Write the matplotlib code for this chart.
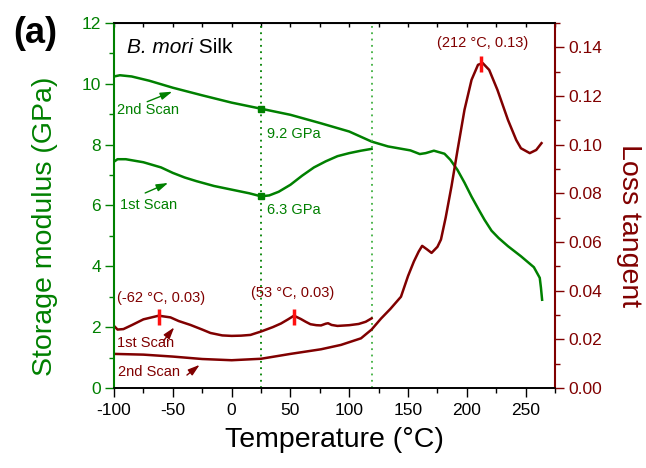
#!/usr/bin/env python3
"""
DMA curves: storage modulus and loss tangent of B. mori silk, 1st and 2nd scan
"""
import numpy as np
import matplotlib
matplotlib.use('Agg')
import matplotlib.pyplot as plt

plt.rcParams['font.family'] = ['Liberation Sans', 'DejaVu Sans']
plt.rcParams['axes.unicode_minus'] = False

GREEN = '#008000'
DARKRED = '#800000'

# storage modulus (GPa), 2nd scan
e2_temp = [-100, -95, -85, -70, -50, -25, 0, 25, 50, 76, 100, 119, 133, 152,
           160, 165, 172, 181, 186, 192, 198, 204, 210, 215, 221, 227, 235, 246,
           257, 262, 263, 264]
e2_mod = [10.24, 10.28, 10.24, 10.1, 9.87, 9.62, 9.38, 9.18, 8.98, 8.7, 8.43, 8.1,
          7.94, 7.81, 7.69, 7.72, 7.8, 7.7, 7.5, 7.17, 6.75, 6.29, 5.87, 5.53,
          5.17, 4.93, 4.66, 4.33, 3.97, 3.62, 3.3, 2.9]

# storage modulus (GPa), 1st scan
e1_temp = [-100, -97, -90, -75, -60, -50, -40, -30, -15, 0, 15, 25, 32, 40, 50,
           60, 70, 80, 90, 100, 110, 119]
e1_mod = [7.44, 7.52, 7.52, 7.42, 7.25, 7.07, 6.92, 6.8, 6.64, 6.52, 6.4, 6.3,
          6.33, 6.45, 6.68, 6.98, 7.25, 7.45, 7.62, 7.72, 7.8, 7.86]

# loss tangent, 1st scan
t1_temp = [-100, -97, -92, -85, -75, -62, -52, -45, -35, -25, -18, -8, 0, 8, 16,
           25, 35, 42, 48, 53, 56, 59, 63, 67, 72, 76, 80, 82, 85, 90, 100, 108,
           114, 119]
t1_tan = [0.0255, 0.0240, 0.0242, 0.0258, 0.0282, 0.0297, 0.0290, 0.0275, 0.0259,
          0.0240, 0.0226, 0.0216, 0.0214, 0.0215, 0.0218, 0.0232, 0.0250, 0.0265,
          0.0282, 0.0297, 0.0290, 0.0283, 0.0272, 0.0262, 0.0258, 0.0257, 0.0264,
          0.0266, 0.0259, 0.0255, 0.0258, 0.0263, 0.0272, 0.0286]

# loss tangent, 2nd scan
t2_temp = [-100, -75, -50, -25, 0, 25, 50, 76, 93, 110, 119, 127, 135, 144, 150,
           155, 159, 162, 166, 170, 175, 178, 182, 187, 192, 198, 204, 209.5, 213.5,
           219, 226, 235, 242, 246, 253.5, 259, 263.5]
t2_tan = [0.0140, 0.0137, 0.0129, 0.0119, 0.0114, 0.0120, 0.0140, 0.0159, 0.0177,
          0.0204, 0.0240, 0.0285, 0.0325, 0.0375, 0.0460, 0.0520, 0.0560, 0.0584,
          0.0570, 0.0555, 0.0580, 0.0610, 0.0700, 0.0830, 0.0975, 0.1143, 0.1266,
          0.1328, 0.1335, 0.1307, 0.1225, 0.1101, 0.1019, 0.0985, 0.0965, 0.0978,
          0.1006]

# tan delta peaks (temperature, value)
peak_temp = [-62, 53, 212]
peak_tan = [0.0292, 0.0292, 0.1330]
peak_text = ['(-62 °C, 0.03)', '(53 °C, 0.03)', '(212 °C, 0.13)']

# modulus read at 25 °C
mark_temp = [25, 25]
mark_mod = [9.18, 6.3]
mark_text = ['9.2 GPa', '6.3 GPa']

fig = plt.figure(figsize=(6.46, 4.68), dpi=100)
ax1 = fig.add_axes([0.1765, 0.171, 0.6827, 0.780])
ax2 = ax1.twinx()

# 储能模量
ax1.plot(e2_temp, e2_mod, color=GREEN, lw=1.8)
ax1.plot(e1_temp, e1_mod, color=GREEN, lw=1.8)
ax1.plot(mark_temp, mark_mod, 's', color=GREEN, ms=4)
ax1.axvline(25, color=GREEN, ls=(0, (1, 2.5)), lw=1.3)
ax1.axvline(119, color='#40b040', ls=(0, (1, 2.5)), lw=1.3)

# 损耗因子
ax2.plot(t1_temp, t1_tan, color=DARKRED, lw=1.8)
ax2.plot(t2_temp, t2_tan, color=DARKRED, lw=1.8)
ax2.plot(peak_temp, peak_tan, '|', color='#ff1010', ms=12, mew=2.5)

ax1.set_xlim(-100, 275)
ax1.set_ylim(0, 12)
ax2.set_ylim(0, 0.15)

ax1.set_xticks(np.arange(-100, 251, 50))
ax1.set_xticks(np.arange(-100, 276, 25), minor=True)
ax1.set_yticks(np.arange(0, 13, 2))
ax1.set_yticks(np.arange(0, 13, 1), minor=True)
ax2.set_yticks(np.arange(0, 0.141, 0.02))
ax2.set_yticks(np.arange(0, 0.151, 0.01), minor=True)
ax2.yaxis.set_major_formatter(plt.FuncFormatter(lambda v, _: f'{v:.2f}'))

ax1.tick_params(axis='x', which='major', length=6.5, width=1, labelsize=12.5, pad=4)
ax1.tick_params(axis='x', which='minor', length=3.5, width=1)
ax1.tick_params(axis='y', which='major', length=6.5, width=1, colors=GREEN,
                labelsize=12.5, pad=3)
ax1.tick_params(axis='y', which='minor', length=3.5, width=1, colors=GREEN)
ax2.tick_params(axis='y', which='major', length=6.5, width=1, colors=DARKRED,
                labelsize=12.5, pad=3)
ax2.tick_params(axis='y', which='minor', length=3.5, width=1, colors=DARKRED)

# top axis: inward ticks only
top = ax1.secondary_xaxis('top')
top.set_xticks(np.arange(-100, 276, 25))
top.tick_params(direction='in', length=3, width=1, labeltop=False)

for ax in (ax1, ax2):
    ax.spines['left'].set_color(GREEN)
    ax.spines['right'].set_color(DARKRED)
    for s in ax.spines.values():
        s.set_linewidth(1.2)
ax2.spines['left'].set_linewidth(1.5)
ax2.spines['right'].set_linewidth(1.5)

# sample name, "B. mori" in italics
name = ax1.text(-89, 11.18, 'B. mori', fontsize=15, fontstyle='italic', va='center')
ax1.annotate(' Silk', xy=(1, 0.5), xycoords=name, fontsize=15, va='center')

# curve labels
ax1.text(-97.4, 9.14, '2nd Scan', color=GREEN, fontsize=10.5, va='center')
ax1.text(-95, 6.02, '1st Scan', color=GREEN, fontsize=10.5, va='center')
ax1.text(29.7, 8.36, mark_text[0], color=GREEN, fontsize=10.5, va='center')
ax1.text(29.7, 5.86, mark_text[1], color=GREEN, fontsize=10.5, va='center')

arrow_g = dict(arrowstyle='-|>,head_length=0.7,head_width=0.22', color=GREEN, lw=1,
               shrinkA=0, shrinkB=0)
ax1.annotate('', xy=(-50.5, 9.74), xytext=(-71.8, 9.41), arrowprops=arrow_g)
ax1.annotate('', xy=(-54, 6.74), xytext=(-73.5, 6.41), arrowprops=arrow_g)

arrow_r = dict(arrowstyle='-|>,head_length=0.7,head_width=0.22', color=DARKRED, lw=1,
               shrinkA=0, shrinkB=0)
ax2.text(-97.4, 0.0185, '1st Scan', color=DARKRED, fontsize=10.5, va='center')
ax2.text(-96.6, 0.0067, '2nd Scan', color=DARKRED, fontsize=10.5, va='center')
ax2.annotate('', xy=(-48.8, 0.0249), xytext=(-57.9, 0.0194), arrowprops=arrow_r)
ax2.annotate('', xy=(-27.2, 0.0095), xytext=(-38, 0.0053), arrowprops=arrow_r)

ax2.text(-97.7, 0.0369, peak_text[0], color=DARKRED, fontsize=10.5, va='center')
ax2.text(52, 0.0390, peak_text[1], color=DARKRED, fontsize=10.5, va='center',
         ha='center')
ax2.text(213, 0.1418, peak_text[2], color=DARKRED, fontsize=10.5, va='center',
         ha='center')

# axis titles
fig.text(0.518, 1 - 440 / 468, 'Temperature (°C)', fontsize=20.5, ha='center',
         va='center')
fig.text(0.070, 0.517, 'Storage modulus (GPa)', fontsize=20.5, color=GREEN,
         rotation=90, ha='center', va='center')
fig.text(0.974, 0.518, 'Loss tangent', fontsize=20.5, color=DARKRED,
         rotation=270, ha='center', va='center')
fig.text(0.055, 0.928, '(a)', fontsize=26, fontweight='bold', ha='center',
         va='center')

fig.savefig('out.png', dpi=100)
